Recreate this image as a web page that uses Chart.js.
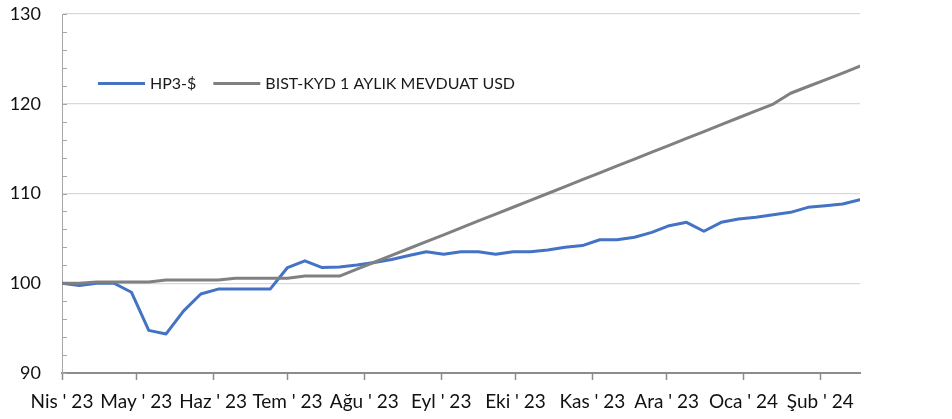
<!DOCTYPE html>
<html lang="tr">
<head>
<meta charset="utf-8">
<title>HP3-$ ve BIST-KYD 1 Aylık Mevduat USD</title>
<script src="https://cdn.jsdelivr.net/npm/chart.js@4.4.0/dist/chart.umd.min.js"></script>
<style>
    html, body { margin: 0; padding: 0; background: #fff; }
    #kutu { width: 952px; height: 419px; }
</style>
</head>
<body>
<div id="kutu"><canvas id="grafik"></canvas></div>
<script>
// Haftalık gözlem tarihleri
const haftalar = [
    '2023-04-01', '2023-04-08', '2023-04-15', '2023-04-22', '2023-04-29',
    '2023-05-06', '2023-05-13', '2023-05-20', '2023-05-27',
    '2023-06-03', '2023-06-10', '2023-06-17', '2023-06-24',
    '2023-07-01', '2023-07-08', '2023-07-15', '2023-07-22', '2023-07-29',
    '2023-08-05', '2023-08-12', '2023-08-19', '2023-08-26',
    '2023-09-02', '2023-09-09', '2023-09-16', '2023-09-23', '2023-09-30',
    '2023-10-07', '2023-10-14', '2023-10-21', '2023-10-28',
    '2023-11-04', '2023-11-11', '2023-11-18', '2023-11-25',
    '2023-12-02', '2023-12-09', '2023-12-16', '2023-12-23', '2023-12-30',
    '2024-01-06', '2024-01-13', '2024-01-20', '2024-01-27',
    '2024-02-03', '2024-02-10', '2024-02-17'
];

// Endeks değerleri (başlangıç = 100)
const hp3 = [
    100, 99.75, 100, 100, 99.0,
    94.75, 94.35, 96.9, 98.8,
    99.35, 99.35, 99.35, 99.35,
    101.75, 102.5, 101.75, 101.8, 102.03,
    102.31, 102.65, 103.1, 103.5,
    103.22, 103.5, 103.5, 103.22, 103.5,
    103.5, 103.7, 104.0, 104.2,
    104.85, 104.85, 105.12, 105.67,
    106.41, 106.79, 105.79, 106.79, 107.16,
    107.35, 107.64, 107.9, 108.46,
    108.64, 108.83, 109.31
];

const bistKyd = [
    100, 100, 100.15, 100.15, 100.15,
    100.15, 100.35, 100.35, 100.35,
    100.35, 100.55, 100.55, 100.55,
    100.55, 100.8, 100.8, 100.8, 101.57,
    102.34, 103.1, 103.87, 104.64,
    105.4, 106.17, 106.94, 107.7, 108.47,
    109.24, 110.0, 110.77, 111.54,
    112.3, 113.07, 113.84, 114.6,
    115.37, 116.14, 116.9, 117.67, 118.44,
    119.2, 119.97, 121.17, 121.92,
    122.67, 123.42, 124.2
];

// Eksendeki ay başları ve etiketleri
const ayBaslari = [
    '2023-04-01', '2023-05-01', '2023-06-01', '2023-07-01', '2023-08-01', '2023-09-01',
    '2023-10-01', '2023-11-01', '2023-12-01', '2024-01-01', '2024-02-01'
];
const ayEtiketleri = [
    "Nis ' 23", "May ' 23", "Haz ' 23", "Tem ' 23", "Ağu ' 23", "Eyl ' 23",
    "Eki ' 23", "Kas ' 23", "Ara ' 23", "Oca ' 24", "Şub ' 24"
];

const seriAdlari = ['HP3-$', 'BIST-KYD 1 AYLIK MEVDUAT USD'];

const yMin = 90;
const yMax = 130;
const yAdim = 10;

// Tarihi ilk gözlemden itibaren gün sayısına çevir
const gun = t => (Date.parse(t) - Date.parse(haftalar[0])) / 86400000;

const yaziTipi = 'Lato, "Open Sans", sans-serif';

// Grafik alanının içinde, sol üstte tek satırlık lejant
const icLejant = {
    id: 'icLejant',
    afterDatasetsDraw(chart) {
        const { ctx, chartArea } = chart;
        const y = 83.5;
        let x = chartArea.left + 36;
        ctx.save();
        ctx.font = '16px ' + yaziTipi;
        ctx.textBaseline = 'middle';
        ctx.fillStyle = '#1a1a1a';
        chart.data.datasets.forEach(ds => {
            ctx.strokeStyle = ds.borderColor;
            ctx.lineWidth = ds.borderWidth;
            ctx.beginPath();
            ctx.moveTo(x, y);
            ctx.lineTo(x + 47, y);
            ctx.stroke();
            x += 47 + 5;
            ctx.fillText(ds.label, x, y);
            x += ctx.measureText(ds.label).width + 17;
        });
        ctx.restore();
    }
};

// Dikey eksen üzerindeki ara çentikler
const araCentikler = {
    id: 'araCentikler',
    beforeDatasetsDraw(chart) {
        const { ctx, chartArea, scales: { y } } = chart;
        ctx.save();
        ctx.strokeStyle = '#a6a6a6';
        ctx.lineWidth = 1;
        for (let v = yMin; v <= yMax; v += 2) {
            const py = Math.round(y.getPixelForValue(v)) + 0.5;
            ctx.beginPath();
            ctx.moveTo(chartArea.left, py);
            ctx.lineTo(chartArea.left + 5, py);
            ctx.stroke();
        }
        ctx.restore();
    }
};

const seri = (degerler) => haftalar.map((t, i) => ({ x: gun(t), y: degerler[i] }));

new Chart(document.getElementById('grafik'), {
    type: 'line',
    data: {
        datasets: [
            {
                label: seriAdlari[0],
                data: seri(hp3),
                borderColor: '#4472c4',
                backgroundColor: '#4472c4',
                borderWidth: 3,
                order: 1
            },
            {
                label: seriAdlari[1],
                data: seri(bistKyd),
                borderColor: '#808080',
                backgroundColor: '#808080',
                borderWidth: 3,
                order: 0
            }
        ]
    },
    options: {
        responsive: true,
        maintainAspectRatio: false,
        animation: false,
        layout: { padding: { top: 14, right: 92, left: 0, bottom: 0 } },
        elements: {
            line: { tension: 0, borderJoinStyle: 'round', borderCapStyle: 'round' },
            point: { radius: 0 }
        },
        plugins: {
            tooltip: { enabled: false },
            legend: { display: false }
        },
        scales: {
            x: {
                type: 'linear',
                min: 0,
                max: gun(haftalar[haftalar.length - 1]),
                afterBuildTicks: s => { s.ticks = ayBaslari.map(t => ({ value: gun(t) })); },
                afterFit: s => { s.height = 46; },
                ticks: {
                    autoSkip: false,
                    maxRotation: 0,
                    padding: 10,
                    color: '#111',
                    font: { family: yaziTipi, size: 19 },
                    callback: (v, i) => ayEtiketleri[i]
                },
                grid: {
                    drawOnChartArea: false,
                    drawTicks: true,
                    tickLength: 7,
                    tickColor: '#8c8c8c',
                    tickWidth: 1.5
                },
                border: { color: '#8c8c8c', width: 2 }
            },
            y: {
                min: yMin,
                max: yMax,
                afterFit: s => { s.width = 62; },
                ticks: {
                    stepSize: yAdim,
                    padding: 2,
                    color: '#111',
                    font: { family: yaziTipi, size: 18 }
                },
                grid: {
                    color: '#d9d9d9',
                    lineWidth: 1.3,
                    drawTicks: true,
                    tickLength: 19,
                    tickColor: 'rgba(0,0,0,0)'
                },
                border: { color: '#a6a6a6', width: 1 }
            }
        }
    },
    plugins: [icLejant, araCentikler]
});
</script>
</body>
</html>
